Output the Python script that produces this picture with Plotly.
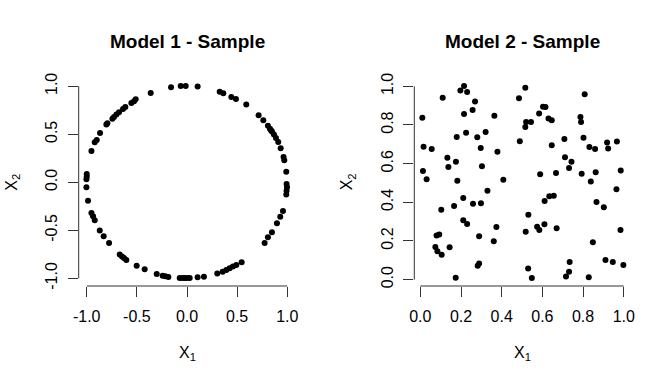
import plotly.graph_objects as go

# ---- Data: Model 1 (points on the unit circle) ----
m1_x1 = [-0.159, -0.063, -0.013, 0.106, -0.362, 0.326, 0.362, 0.442, 0.488, 0.591,
         0.714, 0.761, 0.807, 0.827, 0.837, 0.847, 0.867, 0.887, 0.910, 0.934,
         0.963, 0.970, 0.990,
         0.993, 0.997, 0.993, 0.990, 0.957, 0.930, 0.897, 0.847, 0.807, 0.774,
         0.545, 0.492, 0.458, 0.425, 0.392, 0.355, 0.302, 0.169, 0.106, 0.027,
         0.000, -0.023, -0.047, -0.073, -0.186, -0.216, -0.243, -0.302, -0.422, -0.502,
         -0.605, -0.628, -0.648, -0.671, -0.777, -0.831, -0.870, -0.920, -0.937, -0.953,
         -0.987,
         -1.000, -1.000, -1.003, -1.003,
         -0.953, -0.920, -0.900, -0.867, -0.804, -0.794, -0.744, -0.728, -0.704, -0.678,
         -0.638, -0.615, -0.555, -0.528, -0.512]
m1_x2 = [0.990, 1.003, 1.003, 0.997, 0.931, 0.944, 0.927, 0.889, 0.868, 0.809,
         0.698, 0.646, 0.590, 0.559, 0.542, 0.528, 0.497, 0.462, 0.420, 0.354,
         0.264, 0.229, 0.111,
         -0.017, -0.052, -0.087, -0.128, -0.299, -0.358, -0.427, -0.521, -0.573, -0.632,
         -0.833, -0.861, -0.878, -0.896, -0.913, -0.931, -0.951, -0.983, -0.990, -0.997,
         -0.997, -0.997, -0.997, -0.997, -0.986, -0.979, -0.972, -0.955, -0.906, -0.868,
         -0.809, -0.788, -0.774, -0.753, -0.632, -0.563, -0.503, -0.396, -0.354, -0.319,
         -0.191,
         0.087, 0.059, 0.031, -0.052,
         0.326, 0.417, 0.441, 0.514, 0.601, 0.615, 0.663, 0.681, 0.705, 0.729,
         0.764, 0.785, 0.826, 0.844, 0.865]

# ---- Data: Model 2 (uniform sample on the unit square) ----
m2_x1 = [0.010, 0.110, 0.197, 0.215, 0.230, 0.269, 0.215, 0.257, 0.364, 0.179,
         0.225, 0.280, 0.321, 0.016, 0.056, 0.297, 0.379, 0.133, 0.175, 0.138,
         0.303, 0.013, 0.031, 0.182, 0.408, 0.330, 0.211, 0.103, 0.166, 0.259,
         0.298, 0.211, 0.230, 0.374, 0.080, 0.093, 0.289, 0.361, 0.074, 0.084,
         0.105, 0.144, 0.282, 0.289, 0.174,
         0.485, 0.516, 0.584, 0.603, 0.615, 0.630, 0.646, 0.808, 0.787, 0.790,
         0.520, 0.544, 0.516, 0.489, 0.646, 0.708, 0.802, 0.831, 0.859, 0.918,
         0.923, 0.966, 0.711, 0.743, 0.731, 0.589, 0.667, 0.793, 0.862, 0.838,
         0.985, 0.964, 0.634, 0.656, 0.611, 0.866, 0.902, 0.531, 0.574, 0.585,
         0.610, 0.670, 0.518, 0.848, 0.984, 0.910, 0.946, 0.998, 0.734, 0.731,
         0.716, 0.530, 0.548, 0.828]
m2_x2 = [0.838, 0.941, 0.978, 1.002, 0.971, 0.921, 0.857, 0.878, 0.848, 0.738,
         0.760, 0.736, 0.764, 0.688, 0.676, 0.681, 0.662, 0.631, 0.610, 0.583,
         0.586, 0.562, 0.519, 0.512, 0.517, 0.460, 0.422, 0.362, 0.381, 0.393,
         0.395, 0.307, 0.288, 0.272, 0.228, 0.233, 0.224, 0.198, 0.169, 0.147,
         0.129, 0.167, 0.072, 0.083, 0.010,
         0.938, 0.993, 0.859, 0.895, 0.893, 0.834, 0.824, 0.959, 0.841, 0.816,
         0.816, 0.816, 0.790, 0.716, 0.695, 0.728, 0.734, 0.686, 0.676, 0.709,
         0.678, 0.714, 0.633, 0.610, 0.578, 0.545, 0.552, 0.548, 0.555, 0.507,
         0.564, 0.467, 0.431, 0.434, 0.407, 0.402, 0.374, 0.336, 0.274, 0.257,
         0.286, 0.266, 0.248, 0.193, 0.257, 0.102, 0.091, 0.076, 0.091, 0.041,
         0.016, 0.057, 0.009, 0.012]

# ---- Tick labels ----
m1_ticks = [-1.0, -0.5, 0.0, 0.5, 1.0]
m1_ticktext = ["-1.0", "-0.5", "0.0", "0.5", "1.0"]
m2_ticks = [0.0, 0.2, 0.4, 0.6, 0.8, 1.0]
m2_ticktext = ["0.0", "0.2", "0.4", "0.6", "0.8", "1.0"]
titles = ["Model 1 - Sample", "Model 2 - Sample"]

W, H = 672, 384
FONT = "Liberation Sans, Arial, Helvetica, sans-serif"
AXC = "#333333"

fig = go.Figure()
fig.add_trace(go.Scatter(x=m1_x1, y=m1_x2, mode="markers", xaxis="x", yaxis="y",
                         marker=dict(color="black", size=6, line=dict(width=0)),
                         showlegend=False))
fig.add_trace(go.Scatter(x=m2_x1, y=m2_x2, mode="markers", xaxis="x2", yaxis="y2",
                         marker=dict(color="black", size=6, line=dict(width=0)),
                         showlegend=False))

# plot-region pixel boxes (left, right, top, bottom)
box1 = (78.7, 295.3, 78.6, 286.0)
box2 = (414.3, 630.9, 78.6, 286.0)

def dom_x(b):
    return [b[0] / W, b[1] / W]

def dom_y(b):
    return [1 - b[3] / H, 1 - b[2] / H]

common_x = dict(showgrid=False, zeroline=False, showline=False, ticks="outside",
                ticklen=10, tickwidth=1, tickcolor=AXC, tickmode="array",
                automargin=False, ticklabelstandoff=6,
                tickfont=dict(size=16, color="black", family=FONT))
common_y = dict(showgrid=False, zeroline=False, showline=False, ticks="outside",
                ticklen=10, tickwidth=1, tickcolor=AXC, tickmode="array",
                automargin=False, tickangle=-90, ticklabelstandoff=4,
                tickfont=dict(size=16, color="black", family=FONT))

fig.update_layout(
    width=W, height=H,
    margin=dict(l=0, r=0, t=0, b=0, pad=0),
    paper_bgcolor="white", plot_bgcolor="white",
    font=dict(family=FONT, color="black"),
    showlegend=False,
    xaxis=dict(domain=dom_x(box1), range=[-1.08, 1.08], anchor="y",
               tickvals=m1_ticks, ticktext=m1_ticktext, **common_x),
    yaxis=dict(domain=dom_y(box1), range=[-1.08, 1.08], anchor="x",
               tickvals=m1_ticks, ticktext=m1_ticktext, **common_y),
    xaxis2=dict(domain=dom_x(box2), range=[-0.0295, 1.035], anchor="y2",
                tickvals=m2_ticks, ticktext=m2_ticktext, **common_x),
    yaxis2=dict(domain=dom_y(box2), range=[-0.033, 1.040], anchor="x2",
                tickvals=m2_ticks, ticktext=m2_ticktext, **common_y),
)

# Axis lines spanning only the tick range (R style)
for xa, ya, ticks in [("x", "y", m1_ticks), ("x2", "y2", m2_ticks)]:
    fig.add_shape(type="line", xref=xa, yref=ya + " domain",
                  x0=min(ticks), x1=max(ticks), y0=0, y1=0,
                  line=dict(color=AXC, width=1))
    fig.add_shape(type="line", xref=xa + " domain", yref=ya,
                  x0=0, x1=0, y0=min(ticks), y1=max(ticks),
                  line=dict(color=AXC, width=1))

# Titles and axis titles
for b, t in [(box1, titles[0]), (box2, titles[1])]:
    cx = (b[0] + b[1]) / 2 / W
    fig.add_annotation(text="<b>%s</b>" % t, x=cx, y=1 - 41 / H, xref="paper", yref="paper",
                       xanchor="center", yanchor="middle", showarrow=False,
                       font=dict(size=19, color="black", family=FONT))
    fig.add_annotation(text="X<sub>1</sub>", x=cx, y=1 - 353 / H, xref="paper", yref="paper",
                       xanchor="center", yanchor="middle", showarrow=False,
                       font=dict(size=16, color="black", family=FONT))
    fig.add_annotation(text="X<sub>2</sub>", x=(b[0] - 66) / W, y=1 - 182 / H,
                       xref="paper", yref="paper", textangle=-90,
                       xanchor="center", yanchor="middle", showarrow=False,
                       font=dict(size=16, color="black", family=FONT))

fig.write_html("out.html",
               config={"displayModeBar": False},
               post_script="document.body.style.margin='0';"
                           "document.body.style.overflow='hidden';")
